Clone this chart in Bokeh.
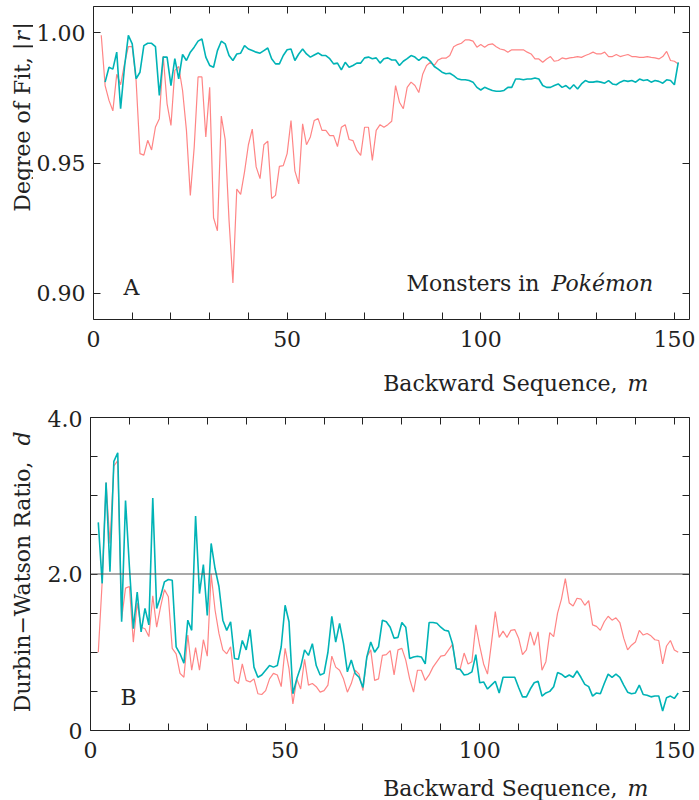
import math
from bokeh.plotting import figure
from bokeh.models import Range1d, LinearAxis, FixedTicker, NumeralTickFormatter, Span, Label
from bokeh.layouts import column, row
from bokeh.embed import file_html
from bokeh.resources import INLINE

# ---------------- data ----------------
m_all = list(range(2, 152))      # backward sequence m (red series, DW series)
m_fit_cyan = list(range(3, 152))  # cyan fit series starts at m = 3

fit_red = [
    0.999, 0.9797, 0.974, 0.970, 0.984, 0.980, 0.988, 0.9946, 0.9946, 0.9816,
    0.9536, 0.953, 0.9587, 0.955, 0.9638, 0.967, 0.991, 0.9727, 0.9644, 0.9855,
    0.987, 0.9778, 0.9625, 0.9376, 0.956, 0.983, 0.983, 0.960, 0.979, 0.929,
    0.924, 0.968, 0.959, 0.928, 0.904, 0.940, 0.938, 0.9466, 0.957, 0.963,
    0.9485, 0.944, 0.957, 0.9584, 0.9364, 0.9376, 0.9487, 0.949, 0.9536, 0.9663,
    0.947, 0.942, 0.965, 0.957, 0.960, 0.9663, 0.967, 0.9625, 0.9625, 0.9605,
    0.9605, 0.9563, 0.9637, 0.9647, 0.959, 0.9586, 0.9548, 0.9529, 0.9637, 0.9637,
    0.951, 0.9625, 0.9647, 0.9637, 0.9647, 0.966, 0.9797, 0.9733, 0.9708, 0.979,
    0.981, 0.9797, 0.977, 0.984, 0.9874, 0.9886, 0.9874, 0.9895, 0.9902, 0.9902,
    0.9912, 0.9946, 0.9954, 0.9959, 0.9972, 0.9972, 0.9967, 0.9944, 0.9954, 0.9944,
    0.9954, 0.9957, 0.9946, 0.9937, 0.9934, 0.9925, 0.9934, 0.9934, 0.9934, 0.9934,
    0.9925, 0.9918, 0.9899, 0.9899, 0.9886, 0.9899, 0.9908, 0.989, 0.9893, 0.9903,
    0.9899, 0.9903, 0.9905, 0.9908, 0.9905, 0.9912, 0.9918, 0.9925, 0.9918, 0.9918,
    0.9925, 0.9908, 0.9908, 0.9916, 0.9908, 0.9912, 0.9916, 0.9908, 0.9908, 0.9905,
    0.9905, 0.9908, 0.9905, 0.9903, 0.9899, 0.9908, 0.9928, 0.9893, 0.989, 0.988,
]

fit_cyan = [
    0.981, 0.9867, 0.986, 0.9925, 0.9708, 0.9867, 0.9989, 0.9957, 0.9823, 0.9848,
    0.995, 0.9959, 0.9959, 0.9946, 0.9759, 0.9906, 0.9906, 0.9797, 0.990, 0.9823,
    0.9916, 0.9893, 0.9925, 0.9944, 0.9967, 0.9976, 0.9906, 0.9874, 0.9867, 0.9931,
    0.9967, 0.9957, 0.9912, 0.9893, 0.9918, 0.9921, 0.995, 0.9937, 0.9931, 0.9925,
    0.9921, 0.9931, 0.9941, 0.990, 0.988, 0.988, 0.9912, 0.9934, 0.9937, 0.9893,
    0.9918, 0.9937, 0.9918, 0.9906, 0.9914, 0.9922, 0.9912, 0.9912, 0.990, 0.988,
    0.9883, 0.9857, 0.9886, 0.9867, 0.9874, 0.9883, 0.9883, 0.9903, 0.9906, 0.990,
    0.9903, 0.9883, 0.990, 0.9903, 0.9895, 0.9895, 0.9874, 0.989, 0.990, 0.9912,
    0.9906, 0.9893, 0.9906, 0.9903, 0.989, 0.987, 0.986, 0.9848, 0.9842, 0.9844,
    0.9835, 0.9823, 0.9819, 0.9819, 0.9816, 0.981, 0.979, 0.978, 0.979, 0.9784,
    0.9778, 0.9775, 0.9775, 0.9778, 0.979, 0.979, 0.9822, 0.9822, 0.9819, 0.9822,
    0.9822, 0.9826, 0.9822, 0.9797, 0.979, 0.979, 0.9797, 0.9803, 0.979, 0.9797,
    0.9784, 0.980, 0.9784, 0.9803, 0.9816, 0.981, 0.981, 0.9813, 0.981, 0.9806,
    0.9816, 0.9803, 0.980, 0.981, 0.9816, 0.9813, 0.9816, 0.981, 0.9822, 0.9816,
    0.9819, 0.981, 0.9816, 0.9813, 0.9806, 0.9819, 0.9816, 0.980, 0.9886,
]

dw_red = [
    1.00, 1.90, 3.17, 2.39, 3.38, 3.45, 1.43, 1.82, 1.84, 1.13,
    1.63, 1.32, 1.30, 1.20, 1.72, 1.32, 1.58, 1.80, 1.71, 1.05,
    0.98, 0.73, 0.68, 1.22, 0.77, 1.06, 0.77, 1.16, 0.95, 2.00,
    1.54, 1.24, 1.03, 0.98, 1.07, 0.64, 0.60, 0.85, 0.64, 0.62,
    0.66, 0.47, 0.46, 0.51, 0.66, 0.73, 0.71, 0.56, 1.05, 0.79,
    0.34, 0.66, 0.53, 0.91, 0.58, 0.60, 0.56, 0.49, 0.51, 0.58,
    0.95, 0.81, 0.77, 0.66, 0.49, 0.60, 0.77, 0.72, 0.51, 0.94,
    1.03, 0.64, 0.66, 0.96, 0.97, 1.02, 0.71, 1.03, 1.05, 0.90,
    0.66, 0.49, 0.77, 0.77, 0.64, 0.71, 0.81, 0.88, 0.95, 0.96,
    1.03, 1.10, 0.79, 0.79, 0.99, 0.85, 0.88, 1.35, 1.08, 0.85,
    0.72, 1.11, 1.52, 1.19, 1.27, 1.19, 1.28, 1.29, 1.18, 0.97,
    1.03, 1.26, 1.09, 1.26, 0.77, 0.88, 1.25, 1.20, 1.50, 1.68,
    1.94, 1.63, 1.59, 1.69, 1.68, 1.60, 1.66, 1.35, 1.33, 1.28,
    1.39, 1.46, 1.41, 1.44, 1.38, 1.18, 1.03, 1.09, 1.13, 1.28,
    1.22, 1.24, 1.21, 1.16, 1.15, 0.85, 1.08, 1.15, 1.03, 1.00,
]

dw_cyan = [
    2.66, 1.88, 3.17, 2.03, 3.44, 3.55, 1.39, 2.94, 2.09, 1.30,
    1.77, 1.26, 1.56, 1.35, 2.97, 1.56, 1.71, 1.90, 1.93, 1.92,
    1.07, 0.98, 0.86, 1.41, 1.28, 2.74, 1.75, 2.12, 1.47, 2.39,
    2.07, 1.84, 1.41, 1.28, 1.39, 0.92, 0.91, 1.15, 1.03, 1.29,
    0.81, 0.68, 0.71, 0.77, 0.83, 0.81, 0.83, 1.07, 1.60, 1.39,
    0.47, 0.66, 0.81, 1.03, 0.96, 1.11, 0.83, 0.71, 0.73, 1.00,
    1.46, 1.13, 1.37, 1.11, 0.75, 0.90, 0.73, 0.68, 0.55, 0.94,
    1.13, 1.00, 1.07, 1.41, 1.39, 1.32, 1.18, 1.19, 1.38, 1.32,
    0.92, 0.94, 0.95, 0.94, 0.85, 1.38, 1.38, 1.37, 1.32, 1.28,
    1.27, 1.11, 0.79, 0.78, 0.71, 0.72, 0.75, 0.97, 0.61, 0.62,
    0.53, 0.58, 0.63, 0.48, 0.68, 0.68, 0.68, 0.68, 0.55, 0.43,
    0.43, 0.53, 0.61, 0.63, 0.44, 0.48, 0.50, 0.56, 0.74, 0.72,
    0.68, 0.71, 0.68, 0.76, 0.68, 0.59, 0.56, 0.44, 0.48, 0.47,
    0.60, 0.72, 0.68, 0.72, 0.68, 0.58, 0.49, 0.47, 0.48, 0.58,
    0.46, 0.45, 0.43, 0.44, 0.44, 0.25, 0.42, 0.44, 0.41, 0.48,
]

x_major_ticks = [0, 50, 100, 150]
x_minor_ticks = [10, 20, 30, 40, 60, 70, 80, 90, 110, 120, 130, 140]
fit_ticks = [0.90, 0.95, 1.00]
dw_ticks = [0, 2, 4]
dw_minor_ticks = [0.5, 1.0, 1.5, 2.5, 3.0, 3.5]
dw_tick_labels = {0: "0", 2: "2.0", 4: "4.0"}
dw_reference = 2.0

x_label = "Backward Sequence,"
x_label_var = "m"
fit_label = "Degree of Fit, |"
fit_label_var = "r"
dw_label = "Durbin\u2212Watson Ratio,"
dw_label_var = "d"
title_plain = "Monsters in"
title_italic = "Pok\u00e9mon"

# ---------------- style ----------------
FONT = "DejaVu Serif"
RED = "#ff8585"
CYAN = "#00b3b6"
INK = "#222222"
FS = "22px"
STRIP_W = 33
YLAB_X = 22


def style_axis(ax, ticker, labels=True, standoff=8):
    ax.ticker = ticker
    ax.major_tick_in = 7
    ax.major_tick_out = 0
    ax.minor_tick_in = 7
    ax.minor_tick_out = 0
    ax.axis_line_color = None
    ax.major_tick_line_color = INK
    ax.minor_tick_line_color = INK
    if labels:
        ax.major_label_text_font = FONT
        ax.major_label_text_font_size = FS
        ax.major_label_text_color = INK
        ax.major_label_standoff = standoff
    else:
        ax.major_label_text_font_size = "0px"
        ax.major_label_text_color = None
        ax.major_label_standoff = 0


def make_fig(height, y_range, top_border, bottom_border):
    p = figure(width=699 - STRIP_W, height=height, output_backend="svg", toolbar_location=None,
               x_range=Range1d(0, 153.9), y_range=y_range,
               min_border_left=90 - STRIP_W, min_border_right=10,
               min_border_top=top_border, min_border_bottom=bottom_border)
    p.xgrid.visible = False
    p.ygrid.visible = False
    p.outline_line_color = INK
    p.outline_line_width = 1
    p.background_fill_color = "white"
    p.border_fill_color = "white"
    return p


def make_strip(width, height):
    s = figure(width=width, height=height, output_backend="svg", toolbar_location=None,
               x_axis_type=None, y_axis_type=None, min_border=0,
               x_range=Range1d(0, 1), y_range=Range1d(0, 1))
    s.outline_line_color = None
    s.background_fill_color = "white"
    s.border_fill_color = "white"
    return s


def add_data_text(p, text, x, y, xo, yo, align="left", italic=False):
    p.add_layout(Label(x=x, y=y, x_offset=xo, y_offset=yo, text=text,
                       text_align=align, text_baseline="alphabetic",
                       text_font=FONT, text_font_size=FS, text_color=INK,
                       text_font_style="italic" if italic else "normal"))


def add_canvas_text(p, text, sx, sy, align="left", angle=0.0, italic=False):
    p.add_layout(Label(x=sx, y=sy, x_units="canvas", y_units="canvas", text=text,
                       text_align=align, text_baseline="alphabetic", angle=angle,
                       text_font=FONT, text_font_size=FS, text_color=INK,
                       text_font_style="italic" if italic else "normal"))


x_ticker = FixedTicker(ticks=x_major_ticks, minor_ticks=x_minor_ticks)

# ---------------- panel A ----------------
fit_lo, fit_hi = 0.8900, 1.0100
p1 = make_fig(359, Range1d(fit_lo, fit_hi), 6, 40)
style_axis(p1.xaxis[0], x_ticker, True, 11)
fit_ticker = FixedTicker(ticks=fit_ticks, minor_ticks=[])
style_axis(p1.yaxis[0], fit_ticker, True, 8)
p1.yaxis[0].formatter = NumeralTickFormatter(format="0.00")
ax_top = LinearAxis()
style_axis(ax_top, x_ticker, False)
p1.add_layout(ax_top, "above")
ax_right = LinearAxis()
style_axis(ax_right, fit_ticker, False)
p1.add_layout(ax_right, "right")

p1.line(m_all, fit_red, line_color=RED, line_width=1.2)
p1.line(m_fit_cyan, fit_cyan, line_color=CYAN, line_width=1.6)

add_data_text(p1, "A", 0, fit_lo, 30, 32)
add_data_text(p1, title_plain, 0, fit_lo, 446, 36, align="right")
add_data_text(p1, title_italic, 0, fit_lo, 458, 36, italic=True)

ylab1 = make_strip(STRIP_W, 359)
add_canvas_text(ylab1, fit_label, YLAB_X, 42, align="right", angle=math.pi / 2)
add_canvas_text(ylab1, fit_label_var, YLAB_X, 41, angle=math.pi / 2, italic=True)
add_canvas_text(ylab1, "|", YLAB_X, 29, angle=math.pi / 2)

xlab1 = make_strip(699, 51)
add_canvas_text(xlab1, x_label, 617, 24, align="right")
add_canvas_text(xlab1, x_label_var, 627, 24, italic=True)

# ---------------- panel B ----------------
p2 = make_fig(358, Range1d(0, 4.0), 7, 38)
style_axis(p2.xaxis[0], x_ticker, True, 11)
dw_ticker = FixedTicker(ticks=dw_ticks, minor_ticks=dw_minor_ticks)
style_axis(p2.yaxis[0], dw_ticker, True, 8)
p2.yaxis[0].major_label_overrides = dw_tick_labels
ax_top2 = LinearAxis()
style_axis(ax_top2, x_ticker, False)
p2.add_layout(ax_top2, "above")
ax_right2 = LinearAxis()
style_axis(ax_right2, dw_ticker, False)
p2.add_layout(ax_right2, "right")

p2.add_layout(Span(location=dw_reference, dimension="width", line_color="#555555", line_width=1.2))
p2.line(m_all, dw_red, line_color=RED, line_width=1.2)
p2.line(m_all, dw_cyan, line_color=CYAN, line_width=1.6)

add_data_text(p2, "B", 0, 0, 30, 33)

ylab2 = make_strip(STRIP_W, 358)
add_canvas_text(ylab2, dw_label, YLAB_X, 51, align="right", angle=math.pi / 2)
add_canvas_text(ylab2, dw_label_var, YLAB_X, 35, angle=math.pi / 2, italic=True)

xlab2 = make_strip(699, 32)
add_canvas_text(xlab2, x_label, 617, 20, align="right")
add_canvas_text(xlab2, x_label_var, 627, 20, italic=True)

layout = column(row(ylab1, p1, spacing=0), xlab1, row(ylab2, p2, spacing=0), xlab2, spacing=0)
open("out.html", "w").write(file_html(layout, INLINE))
